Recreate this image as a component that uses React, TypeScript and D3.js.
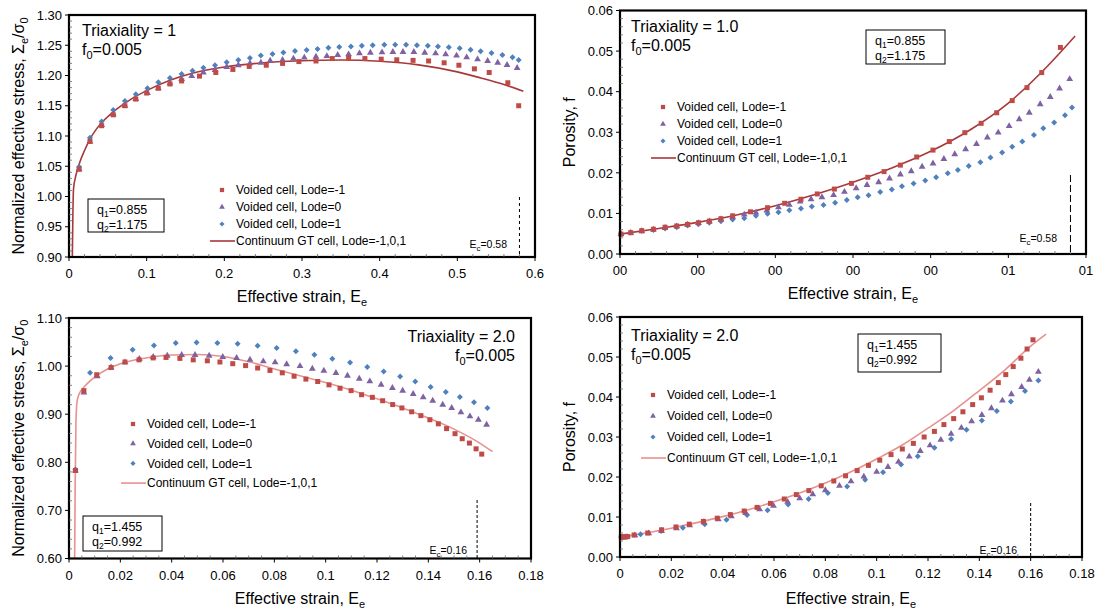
import React from "react";
import * as d3 from "d3";

type Pt = [number, number];

// ---------- Panel 1: Triaxiality = 1, stress ----------
const t1Red: Pt[] = [[0.013,1.045],[0.027,1.091],[0.042,1.117],[0.057,1.135],[0.072,1.150],[0.086,1.161],[0.100,1.171],[0.115,1.179],[0.130,1.186],[0.145,1.191],[0.168,1.199],[0.189,1.205],[0.211,1.210],[0.232,1.215],[0.254,1.217],[0.275,1.220],[0.296,1.223],[0.318,1.224],[0.339,1.228],[0.360,1.229],[0.381,1.228],[0.402,1.227],[0.422,1.226],[0.443,1.225],[0.463,1.224],[0.483,1.221],[0.502,1.217],[0.522,1.211],[0.541,1.205],[0.565,1.188],[0.579,1.150]];
const t1Purple: Pt[] = [[0.013,1.045],[0.027,1.091],[0.042,1.118],[0.057,1.136],[0.072,1.150],[0.086,1.161],[0.101,1.171],[0.115,1.179],[0.130,1.187],[0.145,1.194],[0.158,1.199],[0.173,1.205],[0.188,1.209],[0.203,1.214],[0.218,1.217],[0.233,1.220],[0.247,1.221],[0.259,1.2245],[0.275,1.2256],[0.289,1.228],[0.303,1.2295],[0.318,1.231],[0.332,1.232],[0.346,1.234],[0.360,1.235],[0.374,1.2366],[0.388,1.2377],[0.403,1.2383],[0.417,1.2388],[0.430,1.2388],[0.444,1.2388],[0.458,1.2377],[0.472,1.2366],[0.485,1.235],[0.499,1.2328],[0.512,1.230],[0.526,1.2267],[0.539,1.224],[0.552,1.2212],[0.564,1.2174],[0.577,1.2124]];
const t1Blue: Pt[] = [[0.013,1.049],[0.027,1.097],[0.042,1.124],[0.057,1.143],[0.072,1.158],[0.086,1.169],[0.101,1.179],[0.115,1.189],[0.130,1.196],[0.145,1.2025],[0.159,1.208],[0.173,1.213],[0.188,1.217],[0.203,1.222],[0.218,1.2256],[0.233,1.229],[0.247,1.233],[0.262,1.2355],[0.276,1.238],[0.291,1.2405],[0.306,1.242],[0.320,1.244],[0.334,1.246],[0.348,1.247],[0.363,1.248],[0.377,1.249],[0.391,1.250],[0.406,1.251],[0.420,1.251],[0.434,1.251],[0.448,1.250],[0.462,1.249],[0.475,1.248],[0.489,1.2465],[0.503,1.245],[0.517,1.2427],[0.530,1.240],[0.544,1.237],[0.558,1.234],[0.571,1.230],[0.579,1.2256]];
const t1Curve: Pt[] = [[0.0043,0.90],[0.005,0.97],[0.0058,1.012],[0.008,1.030],[0.011,1.045],[0.014,1.057],[0.02,1.076],[0.027,1.095],[0.035,1.111],[0.045,1.126],[0.06,1.143],[0.08,1.161],[0.1,1.175],[0.13,1.192],[0.16,1.204],[0.2,1.214],[0.25,1.221],[0.3,1.2245],[0.35,1.2255],[0.4,1.2235],[0.45,1.2175],[0.5,1.206],[0.53,1.196],[0.56,1.185],[0.585,1.174]];

// ---------- Panel 2: Triaxiality = 1.0, porosity ----------
const t2Red: Pt[] = [[0.0013,0.0049],[0.0138,0.00525],[0.028,0.00575],[0.043,0.0061],[0.058,0.0066],[0.073,0.0069],[0.087,0.0073],[0.101,0.0077],[0.115,0.0081],[0.130,0.0087],[0.145,0.0094],[0.168,0.0104],[0.190,0.0114],[0.212,0.0125],[0.233,0.0135],[0.254,0.0148],[0.276,0.0160],[0.298,0.0174],[0.319,0.0189],[0.340,0.0203],[0.361,0.0219],[0.382,0.0239],[0.403,0.0256],[0.424,0.0277],[0.444,0.0299],[0.465,0.0322],[0.485,0.0348],[0.505,0.0378],[0.524,0.0410],[0.543,0.0447],[0.567,0.0509]];
const t2Purple: Pt[] = [[0.0013,0.0049],[0.0138,0.0052],[0.028,0.0056],[0.043,0.0060],[0.058,0.0064],[0.073,0.0068],[0.087,0.0072],[0.101,0.0076],[0.115,0.0080],[0.130,0.0085],[0.145,0.0091],[0.160,0.0097],[0.175,0.0102],[0.189,0.0107],[0.204,0.0115],[0.218,0.0121],[0.232,0.0129],[0.246,0.0135],[0.260,0.0140],[0.275,0.0145],[0.289,0.0153],[0.304,0.0162],[0.318,0.0170],[0.333,0.0177],[0.347,0.0186],[0.361,0.0196],[0.375,0.0204],[0.389,0.0215],[0.403,0.0223],[0.417,0.0234],[0.431,0.0246],[0.445,0.0258],[0.459,0.0271],[0.473,0.0287],[0.487,0.0299],[0.501,0.0315],[0.514,0.0332],[0.527,0.0348],[0.541,0.0369],[0.554,0.0387],[0.566,0.0408],[0.579,0.0431]];
const t2Blue: Pt[] = [[0.0013,0.0049],[0.0138,0.0053],[0.028,0.0057],[0.043,0.0059],[0.058,0.0063],[0.073,0.0066],[0.087,0.0070],[0.101,0.0073],[0.115,0.0077],[0.130,0.0081],[0.145,0.0085],[0.160,0.0088],[0.175,0.0094],[0.190,0.0099],[0.204,0.0103],[0.218,0.0108],[0.233,0.0112],[0.247,0.0117],[0.262,0.0121],[0.277,0.0126],[0.292,0.0133],[0.306,0.0140],[0.320,0.0145],[0.335,0.0153],[0.350,0.0159],[0.363,0.0167],[0.378,0.0174],[0.393,0.0181],[0.407,0.0189],[0.422,0.0199],[0.435,0.0207],[0.449,0.0217],[0.464,0.0226],[0.477,0.0238],[0.492,0.0250],[0.505,0.0264],[0.518,0.0277],[0.533,0.0293],[0.545,0.0310],[0.559,0.0324],[0.573,0.0342],[0.582,0.0361]];
const t2Curve: Pt[] = [[0,0.0049],[0.05,0.0063],[0.1,0.0078],[0.15,0.0096],[0.2,0.0119],[0.25,0.0146],[0.3,0.0177],[0.35,0.0212],[0.4,0.0253],[0.45,0.0305],[0.5,0.0372],[0.55,0.0462],[0.586,0.0537]];

// ---------- Panel 3: Triaxiality = 2.0, stress ----------
const t3Red: Pt[] = [[0.0025,0.783],[0.0058,0.949],[0.0108,0.982],[0.0164,0.997],[0.0218,1.0085],[0.0273,1.013],[0.0328,1.017],[0.0378,1.018],[0.0432,1.016],[0.0484,1.013],[0.0539,1.011],[0.0588,1.0085],[0.0638,1.005],[0.0688,1.001],[0.0735,0.996],[0.0783,0.991],[0.0831,0.986],[0.0877,0.979],[0.0923,0.973],[0.0969,0.968],[0.1013,0.961],[0.1056,0.954],[0.1099,0.949],[0.1140,0.9405],[0.1182,0.935],[0.1222,0.928],[0.1261,0.920],[0.1297,0.913],[0.1335,0.905],[0.1371,0.897],[0.1406,0.8885],[0.1439,0.880],[0.1471,0.870],[0.1504,0.8595],[0.1532,0.849],[0.1560,0.840],[0.1586,0.828],[0.1608,0.817]];
const t3Purple: Pt[] = [[0.0025,0.783],[0.0058,0.945],[0.011,0.979],[0.0164,0.997],[0.0218,1.0077],[0.0274,1.0147],[0.0328,1.019],[0.0383,1.0216],[0.0439,1.023],[0.0491,1.023],[0.0546,1.0216],[0.0599,1.019],[0.0653,1.0168],[0.0705,1.0133],[0.0757,1.0098],[0.0803,1.0077],[0.0848,1.004],[0.090,1.000],[0.0948,0.9946],[0.0993,0.9904],[0.1040,0.9857],[0.1085,0.980],[0.1131,0.9738],[0.1172,0.9682],[0.1216,0.9613],[0.1260,0.9544],[0.1300,0.9489],[0.1341,0.942],[0.1380,0.935],[0.1417,0.928],[0.1456,0.9197],[0.1491,0.9129],[0.1527,0.9038],[0.1562,0.8954],[0.1595,0.8885],[0.1627,0.8782]];
const t3Blue: Pt[] = [[0.0025,0.785],[0.0082,0.986],[0.0162,1.017],[0.0248,1.034],[0.0331,1.043],[0.0416,1.048],[0.0497,1.049],[0.0578,1.048],[0.0657,1.0466],[0.0735,1.0424],[0.0809,1.0376],[0.0884,1.031],[0.0956,1.0237],[0.1026,1.0154],[0.1095,1.0077],[0.1162,0.998],[0.1226,0.989],[0.1290,0.9786],[0.1349,0.9682],[0.1409,0.9565],[0.1468,0.9462],[0.1523,0.9357],[0.1578,0.9246],[0.1630,0.9129]];
const t3Curve: Pt[] = [[0.0022,0.60],[0.0024,0.75],[0.0027,0.88],[0.0031,0.925],[0.0038,0.940],[0.005,0.951],[0.007,0.963],[0.01,0.977],[0.015,0.994],[0.02,1.005],[0.03,1.017],[0.04,1.023],[0.05,1.024],[0.06,1.020],[0.07,1.009],[0.08,0.994],[0.09,0.980],[0.10,0.966],[0.11,0.950],[0.12,0.932],[0.13,0.913],[0.14,0.892],[0.15,0.869],[0.16,0.840],[0.165,0.822]];

// ---------- Panel 4: Triaxiality = 2.0, porosity ----------
const t4Red: Pt[] = [[0.0005,0.0050],[0.0012,0.0050],[0.002,0.0050],[0.003,0.0051],[0.0055,0.0055],[0.0108,0.0060],[0.0162,0.0068],[0.0218,0.0075],[0.0270,0.0082],[0.0325,0.0089],[0.0379,0.0097],[0.0430,0.0106],[0.0484,0.0115],[0.0534,0.0124],[0.0586,0.0134],[0.0640,0.0145],[0.0687,0.0156],[0.0736,0.0166],[0.0784,0.0178],[0.0833,0.0190],[0.0879,0.0203],[0.0924,0.0216],[0.0968,0.0229],[0.1012,0.0242],[0.1056,0.0256],[0.1100,0.0270],[0.1143,0.0284],[0.1185,0.0300],[0.1225,0.0314],[0.1262,0.0331],[0.1300,0.0346],[0.1336,0.0363],[0.1374,0.0381],[0.1408,0.0398],[0.1442,0.0417],[0.1474,0.0436],[0.1503,0.0456],[0.1532,0.0476],[0.1562,0.0497],[0.1586,0.0520],[0.1609,0.0543]];
const t4Purple: Pt[] = [[0.0058,0.0054],[0.0112,0.0059],[0.0162,0.0065],[0.0220,0.0072],[0.0272,0.0079],[0.0327,0.0087],[0.0383,0.0094],[0.0434,0.0102],[0.0490,0.0110],[0.0544,0.0119],[0.0598,0.0128],[0.0653,0.0138],[0.0700,0.0147],[0.0751,0.0157],[0.0800,0.0167],[0.0855,0.0178],[0.0900,0.0189],[0.0950,0.0201],[0.1000,0.0213],[0.1044,0.0225],[0.1085,0.0238],[0.1127,0.0251],[0.1170,0.0265],[0.1208,0.0279],[0.1250,0.0293],[0.1290,0.0308],[0.1330,0.0323],[0.1370,0.0339],[0.1410,0.0355],[0.1447,0.0372],[0.1490,0.0391],[0.1525,0.0407],[0.1565,0.0425],[0.1595,0.0443],[0.1630,0.0463]];
const t4Blue: Pt[] = [[0.0005,0.0050],[0.0010,0.0050],[0.0015,0.0050],[0.0020,0.0051],[0.0025,0.0051],[0.0030,0.0051],[0.0080,0.0057],[0.0160,0.0065],[0.0245,0.0073],[0.0330,0.0082],[0.0415,0.0093],[0.0495,0.0105],[0.0575,0.0117],[0.0655,0.0131],[0.0735,0.0145],[0.0810,0.0160],[0.0885,0.0176],[0.0955,0.0193],[0.1025,0.0212],[0.1095,0.0231],[0.1160,0.0252],[0.1225,0.0273],[0.1290,0.0295],[0.1350,0.0318],[0.1410,0.0341],[0.1468,0.0365],[0.1523,0.0389],[0.1578,0.0415],[0.1630,0.0441]];
const t4Curve: Pt[] = [[0,0.005],[0.01,0.006],[0.02,0.0072],[0.03,0.0086],[0.04,0.0101],[0.05,0.0118],[0.06,0.0138],[0.07,0.016],[0.08,0.0185],[0.09,0.0213],[0.1,0.0245],[0.11,0.028],[0.12,0.0322],[0.13,0.0366],[0.14,0.0416],[0.15,0.0468],[0.16,0.0527],[0.166,0.0557]];

// ---------- Tick labels ----------
const xTicksWide = [0, 0.1, 0.2, 0.3, 0.4, 0.5, 0.6];
const xLabelsP1 = ["0", "0.1", "0.2", "0.3", "0.4", "0.5", "0.6"];
const xLabelsP2 = ["00", "00", "00", "00", "00", "01", "01"];
const xTicksNarrow = [0, 0.02, 0.04, 0.06, 0.08, 0.1, 0.12, 0.14, 0.16, 0.18];
const xLabelsNarrow = ["0", "0.02", "0.04", "0.06", "0.08", "0.1", "0.12", "0.14", "0.16", "0.18"];
const yTicksP1 = [0.9, 0.95, 1.0, 1.05, 1.1, 1.15, 1.2, 1.25, 1.3];
const yTicksPor = [0, 0.01, 0.02, 0.03, 0.04, 0.05, 0.06];
const yTicksP3 = [0.6, 0.7, 0.8, 0.9, 1.0, 1.1];

const legendLabels = ["Voided cell, Lode=-1", "Voided cell, Lode=0", "Voided cell, Lode=1", "Continuum GT cell, Lode=-1,0,1"];

const FONT = "'Liberation Sans', Arial, sans-serif";
const C_RED = "#BE4B48";
const C_PURPLE = "#7E62A1";
const C_BLUE = "#4F81BD";
const C_DARKCURVE = "#A8383A";
const C_LIGHTCURVE = "#E8918D";

const symSquare = d3.symbol().type(d3.symbolSquare).size(25)() as string;
const symTri = d3.symbol().type(d3.symbolTriangle).size(20)() as string;
const symDiamond = "M0,-3L3,0L0,3L-3,0Z";

interface PanelProps {
  left: number; right: number; top: number; bottom: number;
  xDomain: [number, number]; xTicks: number[]; xLabels: string[]; xMinor: number;
  yDomain: [number, number]; yTicks: number[]; yDigits: number; yMinor: number;
  red: Pt[]; purple: Pt[]; blue: Pt[]; curve: Pt[]; curveColor: string;
  ec: number; ecTop: number; ecLabel: string; ecTextX: number; ecTextY: number; ecDash: string;
  title: string; titleX: number; titleY: number; titleAnchor: "start" | "end";
  qX: number; qY: number; qW: number; qH: number; q1: string; q2: string;
  legX: number; legY: number; legGap: number;
  yLabel: "stress" | "porosity"; yLabelX: number; xLabelY: number;
}

function Panel(p: PanelProps) {
  const x = d3.scaleLinear().domain(p.xDomain).range([p.left, p.right]);
  const y = d3.scaleLinear().domain(p.yDomain).range([p.bottom, p.top]);
  const line = d3.line<Pt>().x(d => x(d[0])).y(d => y(d[1])).curve(d3.curveMonotoneX);
  const eps = 1e-9;
  const xMinorTicks = d3.range(p.xDomain[0], p.xDomain[1] + eps, p.xMinor).filter(v => !p.xTicks.some(t => Math.abs(t - v) < 1e-7));
  const yMinorTicks = d3.range(p.yDomain[0], p.yDomain[1] + eps, p.yMinor).filter(v => !p.yTicks.some(t => Math.abs(t - v) < 1e-7));
  const midX = (p.left + p.right) / 2;
  const midY = (p.top + p.bottom) / 2;
  const fs = 16;
  return (
    <g fontFamily={FONT}>
      <path d={line(p.curve) || ""} fill="none" stroke={p.curveColor} strokeWidth={1.6} />
      {p.blue.map((d, i) => <path key={"b" + i} d={symDiamond} transform={`translate(${x(d[0])},${y(d[1])})`} fill={C_BLUE} />)}
      {p.purple.map((d, i) => <path key={"p" + i} d={symTri} transform={`translate(${x(d[0])},${y(d[1])})`} fill={C_PURPLE} />)}
      {p.red.map((d, i) => <path key={"r" + i} d={symSquare} transform={`translate(${x(d[0])},${y(d[1])})`} fill={C_RED} />)}

      <rect x={p.left} y={p.top} width={p.right - p.left} height={p.bottom - p.top} fill="none" stroke="#000" strokeWidth={2.2} />

      {p.xTicks.map((t, i) => (
        <g key={"xt" + i}>
          <line x1={x(t)} x2={x(t)} y1={p.bottom} y2={p.bottom + 4} stroke="#000" strokeWidth={1} />
          <text x={x(t)} y={p.bottom + 21} textAnchor="middle" fontSize={13}>{p.xLabels[i]}</text>
        </g>
      ))}
      {xMinorTicks.map((t, i) => (
        <line key={"xm" + i} x1={x(t)} x2={x(t)} y1={p.bottom} y2={p.bottom - 3} stroke="#666" strokeWidth={0.8} />
      ))}
      {p.yTicks.map((t, i) => (
        <g key={"yt" + i}>
          <line x1={p.left - 4} x2={p.left} y1={y(t)} y2={y(t)} stroke="#000" strokeWidth={1} />
          <text x={p.left - 7} y={y(t)} dy="0.36em" textAnchor="end" fontSize={13}>{t.toFixed(p.yDigits)}</text>
        </g>
      ))}
      {yMinorTicks.map((t, i) => (
        <line key={"ym" + i} x1={p.left} x2={p.left + 3} y1={y(t)} y2={y(t)} stroke="#666" strokeWidth={0.8} />
      ))}

      <text x={midX} y={p.xLabelY} textAnchor="middle" fontSize={fs}>
        Effective strain, E<tspan dy={4} fontSize={11}>e</tspan>
      </text>
      {p.yLabel === "stress" ? (
        <text transform={`translate(${p.yLabelX},${midY}) rotate(-90)`} textAnchor="middle" fontSize={fs}>
          Normalized effective stress, Σ<tspan dy={4} fontSize={11}>e</tspan><tspan dy={-4}>/σ</tspan><tspan dy={4} fontSize={11}>0</tspan>
        </text>
      ) : (
        <text transform={`translate(${p.yLabelX},${midY}) rotate(-90)`} textAnchor="middle" fontSize={fs}>Porosity, f</text>
      )}

      <text x={p.titleX} y={p.titleY} textAnchor={p.titleAnchor} fontSize={16}>{p.title}</text>
      <text x={p.titleX} y={p.titleY + 19} textAnchor={p.titleAnchor} fontSize={16}>
        f<tspan dy={4} fontSize={11}>0</tspan><tspan dy={-4}>=0.005</tspan>
      </text>

      <rect x={p.qX} y={p.qY} width={p.qW} height={p.qH} fill="#fff" stroke="#000" strokeWidth={1} />
      <text x={p.qX + 9} y={p.qY + 15} fontSize={12.5}>
        q<tspan dy={3} fontSize={8.5}>1</tspan><tspan dy={-3}>={p.q1}</tspan>
      </text>
      <text x={p.qX + 9} y={p.qY + 30} fontSize={12.5}>
        q<tspan dy={3} fontSize={8.5}>2</tspan><tspan dy={-3}>={p.q2}</tspan>
      </text>

      {[symSquare, symTri, symDiamond].map((s, i) => (
        <path key={"lg" + i} d={s} transform={`translate(${p.legX},${p.legY + i * p.legGap}) scale(0.85)`} fill={[C_RED, C_PURPLE, C_BLUE][i]} />
      ))}
      <line x1={p.legX - 12} x2={p.legX + 13} y1={p.legY + 3 * p.legGap} y2={p.legY + 3 * p.legGap} stroke={p.curveColor} strokeWidth={1.6} />
      {legendLabels.map((l, i) => (
        <text key={"lt" + i} x={p.legX + 14} y={p.legY + i * p.legGap} dy="0.36em" fontSize={12}>{l}</text>
      ))}

      <line x1={x(p.ec)} x2={x(p.ec)} y1={p.ecTop} y2={p.bottom} stroke="#000" strokeWidth={1} strokeDasharray={p.ecDash} />
      <text x={p.ecTextX} y={p.ecTextY} textAnchor="end" fontSize={10.5}>
        E<tspan dy={2.5} fontSize={8}>c</tspan><tspan dy={-2.5}>={p.ecLabel}</tspan>
      </text>
    </g>
  );
}

export default function App() {
  return (
    <svg width={1100} height={613} style={{ display: "block", position: "absolute", left: 0, top: 0, background: "#fff" }}>
      <rect x={0} y={0} width={1100} height={613} fill="#fff" />
      <Panel left={69} right={535} top={15} bottom={257}
        xDomain={[0, 0.6]} xTicks={xTicksWide} xLabels={xLabelsP1} xMinor={0.02}
        yDomain={[0.9, 1.3]} yTicks={yTicksP1} yDigits={2} yMinor={0.01}
        red={t1Red} purple={t1Purple} blue={t1Blue} curve={t1Curve} curveColor={C_DARKCURVE}
        ec={0.58} ecTop={197} ecLabel="0.58" ecTextX={507} ecTextY={248} ecDash="3,3"
        title="Triaxiality = 1" titleX={82} titleY={36} titleAnchor="start"
        qX={88} qY={199} qW={76} qH={33} q1="0.855" q2="1.175"
        legX={222} legY={190} legGap={17}
        yLabel="stress" yLabelX={24} xLabelY={302} />
      <Panel left={620} right={1086} top={10.5} bottom={254}
        xDomain={[0, 0.6]} xTicks={xTicksWide} xLabels={xLabelsP2} xMinor={0.02}
        yDomain={[0, 0.06]} yTicks={yTicksPor} yDigits={2} yMinor={0.002}
        red={t2Red} purple={t2Purple} blue={t2Blue} curve={t2Curve} curveColor={C_DARKCURVE}
        ec={0.58} ecTop={175} ecLabel="0.58" ecTextX={1057} ecTextY={242} ecDash="7,3"
        title="Triaxiality = 1.0" titleX={631} titleY={32} titleAnchor="start"
        qX={866} qY={30} qW={79} qH={34} q1="0.855" q2="1.175"
        legX={663} legY={107} legGap={17}
        yLabel="porosity" yLabelX={575} xLabelY={299} />
      <Panel left={69} right={531} top={318} bottom={558.5}
        xDomain={[0, 0.18]} xTicks={xTicksNarrow} xLabels={xLabelsNarrow} xMinor={0.005}
        yDomain={[0.6, 1.1]} yTicks={yTicksP3} yDigits={2} yMinor={0.02}
        red={t3Red} purple={t3Purple} blue={t3Blue} curve={t3Curve} curveColor={C_LIGHTCURVE}
        ec={0.159} ecTop={500} ecLabel="0.16" ecTextX={467} ecTextY={554} ecDash="3,2"
        title="Triaxiality = 2.0" titleX={515} titleY={342} titleAnchor="end"
        qX={83} qY={516} qW={79} qH={35} q1="1.455" q2="0.992"
        legX={133} legY={424} legGap={19.7}
        yLabel="stress" yLabelX={24} xLabelY={604} />
      <Panel left={620} right={1082} top={317} bottom={557}
        xDomain={[0, 0.18]} xTicks={xTicksNarrow} xLabels={xLabelsNarrow} xMinor={0.005}
        yDomain={[0, 0.06]} yTicks={yTicksPor} yDigits={2} yMinor={0.002}
        red={t4Red} purple={t4Purple} blue={t4Blue} curve={t4Curve} curveColor={C_LIGHTCURVE}
        ec={0.16} ecTop={503} ecLabel="0.16" ecTextX={1017} ecTextY={554} ecDash="3,2"
        title="Triaxiality = 2.0" titleX={631} titleY={341} titleAnchor="start"
        qX={858} qY={334} qW={83} qH={38} q1="1.455" q2="0.992"
        legX={653} legY={395} legGap={21}
        yLabel="porosity" yLabelX={575} xLabelY={604} />
    </svg>
  );
}
